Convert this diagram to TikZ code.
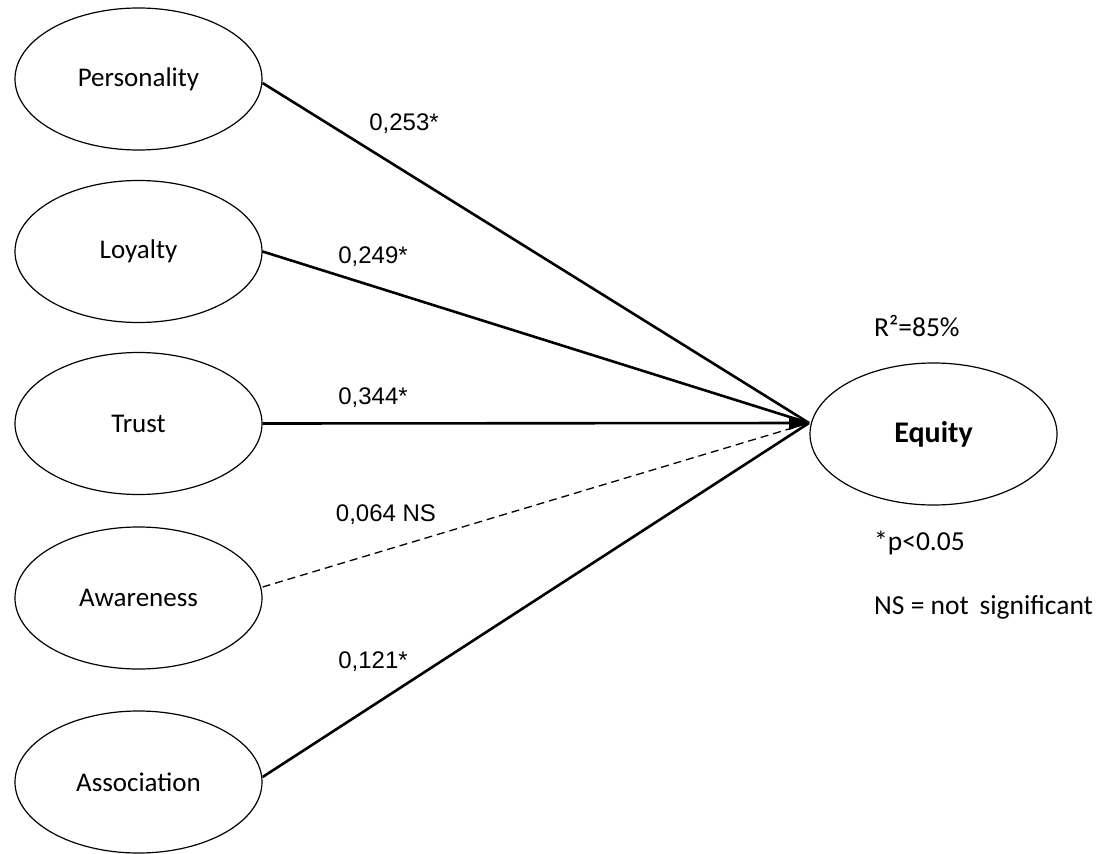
\documentclass[tikz,border=0pt]{standalone}
\usepackage{fontspec}
\setmainfont{Carlito}
\newfontfamily\numfont{Liberation Sans}
\usetikzlibrary{arrows.meta,shapes.geometric}
\begin{document}
\begin{tikzpicture}[x=1pt,y=-1pt,
  construct/.style={draw,line width=1.2pt,ellipse,minimum width=247pt,minimum height=142pt,inner sep=0pt,font=\fontsize{27}{30}\selectfont},
  solidpath/.style={line width=2.6pt},
  nspath/.style={line width=1.3pt,dash pattern=on 8pt off 5pt},
  coef/.style={font=\numfont\fontsize{24}{26}\selectfont,inner sep=0pt},
  note/.style={font=\fontsize{27.5}{30}\selectfont,inner sep=0pt,anchor=west}]
\useasboundingbox (0,0) rectangle (1099,853);
% latent constructs
\node[construct] (pers) at (138.5,79) {Personality};
\node[construct] (loy) at (138.5,251.5) {Loyalty};
\node[construct] (trust) at (138.5,423.5) {Trust};
\node[construct] (aware) at (138.5,598) {Awareness};
\node[construct] (assoc) at (138.5,782) {Association};
\node[construct,font=\fontsize{30}{32}\selectfont\bfseries] (eq) at (933.5,434) {Equity};
% structural paths, all meeting at one arrow tip
\coordinate (tip) at (809,423);
\coordinate (p0) at ([yshift=-4pt]pers.east);
\coordinate (a0) at ([yshift=11pt]aware.east);
\coordinate (s0) at ([yshift=5pt]assoc.east);
\draw[solidpath] (p0) -- (tip);
\draw[solidpath] (loy.east) -- (tip);
\draw[nspath] (a0) -- (tip);
\draw[solidpath] (s0) -- (tip);
\draw[solidpath] (trust.east) -- (tip);
\fill ([xshift=-20pt,yshift=-7pt]tip) -- (tip) -- ([xshift=-20pt,yshift=7pt]tip) -- cycle;
% path coefficients
\node[coef] (c1) at (404,124) {0,253*};
\node[coef] (c2) at (373,257) {0,249*};
\node[coef] (c3) at (373,398) {0,344*};
\node[coef] (c4) at (386,515) {0,064 NS};
\node[coef] (c5) at (373,662) {0,121*};
% model notes
\node[note] (r2) at (874,326) {R²=85\%};
\node[note] (pval) at (874,543) {*p<0.05};
\node[note] (ns) at (874,607) {NS = not\, significant};
\end{tikzpicture}
\end{document}
